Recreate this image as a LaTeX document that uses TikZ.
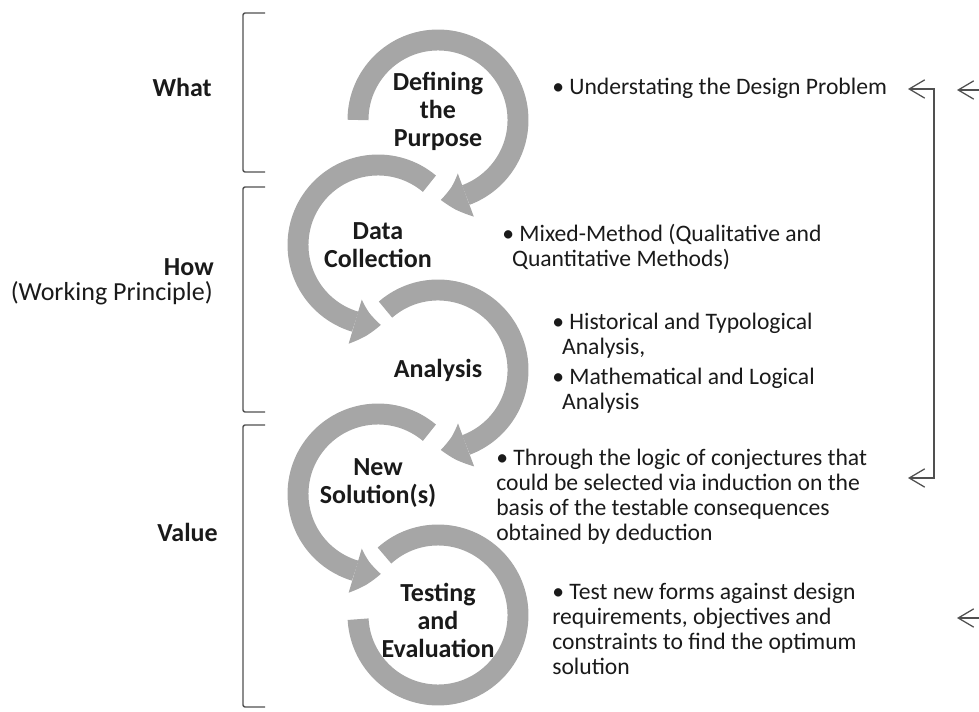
\documentclass[tikz,border=0pt]{standalone}
\usepackage{fontspec}
\setmainfont{Carlito}
\usepackage{tikz}
\usetikzlibrary{arrows.meta,bending,calc}
\definecolor{ink}{HTML}{1A1A1A}
\definecolor{arcGray}{HTML}{A6A6A6}
\definecolor{ruleGray}{HTML}{505050}
\newcommand{\hang}{\hspace*{7pt}}
\tikzset{
  cycleArc/.style={draw=arcGray, line width=14.9pt},
  cycleTip/.style={-{Triangle[width=32.7pt,length=18.5pt,line width=0pt,bend]}},
  cycleLabel/.style={text=ink, font=\fontsize{18.5}{19.9}\selectfont\bfseries, align=center},
  noteText/.style={text=ink, font=\fontsize{16.8}{17.8}\selectfont, align=left, anchor=west, inner sep=0pt},
  sideLabel/.style={text=ink, font=\fontsize{18.5}{22}\selectfont\bfseries, anchor=east, inner sep=0pt},
  sideBracket/.style={draw=ruleGray, line width=1pt, rounded corners=1.5pt},
  backArrow/.style={draw=ruleGray, line width=0.9pt, {Straight Barb[length=11pt,width=13pt]}-{Straight Barb[length=11pt,width=13pt]}},
  edgeArrow/.style={draw=ruleGray, line width=0.9pt, -{Straight Barb[length=11pt,width=13pt]}}
}

\begin{document}
\begin{tikzpicture}[x=0.025cm, y=0.025cm]
  \useasboundingbox (0,0) rectangle (979,711);

  % circle centres
  \coordinate (c1) at (438,591);
  \coordinate (c2) at (378,466);
  \coordinate (c3) at (438,341);
  \coordinate (c4) at (378,217);
  \coordinate (c5) at (438,96);

  \draw[cycleArc, cycleTip] ($(c1)+(180:80)$) arc[start angle=180, end angle=-88, radius=80];
  \draw[cycleArc, cycleTip] ($(c2)+(50:80)$) arc[start angle=50, end angle=272, radius=80];
  \draw[cycleArc, cycleTip] ($(c3)+(131:80)$) arc[start angle=131, end angle=-88, radius=80];
  \draw[cycleArc, cycleTip] ($(c4)+(50:80)$) arc[start angle=50, end angle=272, radius=80];
  \draw[cycleArc] ($(c5)+(132:80)$) arc[start angle=132, end angle=-177, radius=80];

  \node[cycleLabel] (purpose) at (438,600) {Defining\\the\\Purpose};
  \node[cycleLabel] (collect) at (378,466) {Data\\Collection};
  \node[cycleLabel] (analysis) at (438,341) {Analysis};
  \node[cycleLabel] (solution) at (378,228) {New\\Solution(s)};
  \node[cycleLabel] (testing) at (438,91) {Testing\\and\\Evaluation};

  % left side
  \node[sideLabel] (what) at (212,624) {What};
  \node[sideLabel] (how) at (214,444) {How};
  \node[sideLabel, font=\fontsize{18.5}{22}\selectfont] (principle) at (213,418) {(Working Principle)};
  \node[sideLabel] (value) at (218,179) {Value};

  \draw[sideBracket] (265,698) -- (243,698) -- (243,539) -- (265,539);
  \draw[sideBracket] (265,524) -- (243,524) -- (243,299) -- (265,299);
  \draw[sideBracket] (265,286) -- (243,286) -- (243,4) -- (265,4);

  % notes
  \node[noteText] (note1) at (552,623) {• Understating the Design Problem};
  \node[noteText] (note2) at (502,464) {• Mixed-Method (Qualitative and\\\hang Quantitative Methods)};
  \node[noteText] (note3) at (552,348) {• Historical and Typological\\\hang Analysis,\\[3.5pt]• Mathematical and Logical\\\hang Analysis};
  \node[noteText] (note4) at (496,214) {• Through the logic of conjectures that\\could be selected via induction on the\\basis of the testable consequences\\obtained by deduction};
  \node[noteText] (note5) at (552,82) {• Test new forms against design\\requirements, objectives and\\constraints to find the optimum\\solution};

  % feedback
  \coordinate (loopTop) at (908,622);
  \coordinate (loopBot) at (908,233);
  \draw[backArrow] (loopTop) -- ++(26,0) |- (loopBot);

  \coordinate (edgeTop) at (979,621);
  \coordinate (edgeBot) at (979,93);
  \coordinate (tipTop) at (957,621);
  \coordinate (tipBot) at (957,93);
  \draw[edgeArrow] (edgeTop) -- (tipTop);
  \draw[edgeArrow] (edgeBot) -- (tipBot);
\end{tikzpicture}
\end{document}
